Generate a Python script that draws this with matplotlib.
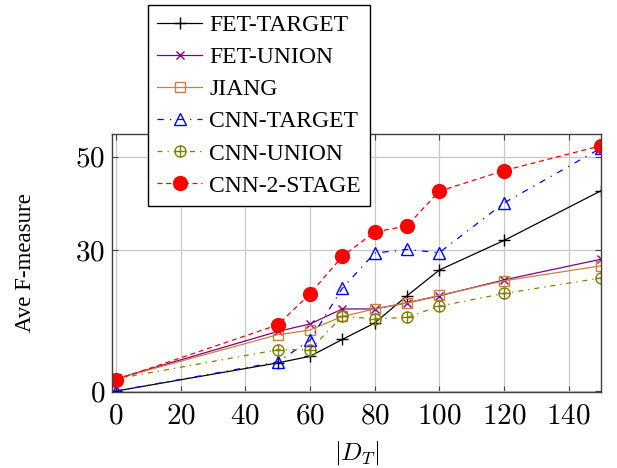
import matplotlib
matplotlib.use("Agg")
import matplotlib.pyplot as plt
from matplotlib.path import Path
import numpy as np

# ---- data ----
x = [0, 50, 60, 70, 80, 90, 100, 120, 150]
fet_target = [0.0, 6.0, 7.4, 11.0, 14.5, 20.3, 25.8, 32.1, 42.7]
fet_union = [2.6, 12.7, 14.3, 17.5, 17.5, 18.8, 20.3, 23.7, 28.1]
jiang = [2.6, 12.0, 13.0, 15.9, 17.5, 18.8, 20.4, 23.5, 26.7]
cnn_target = [0.0, 6.2, 10.8, 21.9, 29.4, 30.2, 29.5, 40.1, 51.8]
cnn_union = [2.6, 8.8, 8.8, 15.9, 15.4, 15.7, 18.1, 20.8, 24.1]
cnn_2stage = [2.4, 14.1, 20.7, 28.7, 33.9, 35.2, 42.6, 47.0, 52.3]
labels = ["FET-TARGET", "FET-UNION", "JIANG", "CNN-TARGET", "CNN-UNION", "CNN-2-STAGE"]
xticks = [0, 20, 40, 60, 80, 100, 120, 140]
yticks = [0, 30, 50]
xlabel = r"$|D_T|$"
ylabel = "Ave F-measure"

plt.rcParams["font.family"] = ["Liberation Serif", "DejaVu Serif"]
plt.rcParams["mathtext.fontset"] = "cm"

fig = plt.figure(figsize=(6.17, 4.68), dpi=100)
ax = fig.add_axes([112 / 617, 1 - 392 / 468, 489 / 617, 258 / 468])

# oplus marker
circ = Path.unit_circle()
cross = Path([[-1, 0], [1, 0], [0, -1], [0, 1]],
             [Path.MOVETO, Path.LINETO, Path.MOVETO, Path.LINETO])
oplus = Path.make_compound_path(circ, cross)

lw = 0.9
ax.plot(x, fet_target, color="black", lw=lw, marker="+", ms=8, mew=1.0, label=labels[0])
ax.plot(x, fet_union, color=(0.5, 0, 0.5), lw=lw, marker="x", ms=5.5, mew=1.0, label=labels[1])
ax.plot(x, jiang, color=(0.8, 0.5, 0.25), lw=lw, marker="s", ms=7.5, mew=1.0, mfc="none", label=labels[2])
ax.plot(x, cnn_target, color="blue", lw=lw, ls=(0, (5, 5, 1, 5)), marker="^", ms=8, mew=1.0, mfc="none", label=labels[3])
ax.plot(x, cnn_union, color=(0.5, 0.5, 0), lw=lw, ls=(0, (4, 4, 1, 4)), marker=oplus, ms=8, mew=1.0, mfc="none", label=labels[4])
ax.plot(x, cnn_2stage, color="red", lw=lw, ls=(0, (4, 3)), marker="o", ms=11, mew=0, label=labels[5])

ax.set_xlim(-1.2, 150)
ax.set_ylim(-0.2, 54.8)
ax.set_xticks(xticks, labels=[f"${t}$" for t in xticks])
ax.set_yticks(yticks, labels=[f"${t}$" for t in yticks])
ax.grid(True, color="#c8c8c8", lw=0.9)
ax.set_axisbelow(True)
for s in ax.spines.values():
    s.set_color("#404040")
    s.set_linewidth(1.0)
ax.tick_params(direction="in", length=4, width=0.8, color="#404040",
               top=True, right=True, labelsize=21, pad=5)
ax.tick_params(axis="x", pad=8)

ax.set_xlabel(xlabel, fontsize=18, labelpad=7)
ax.set_ylabel(ylabel, fontsize=16.5)
ax.yaxis.set_label_coords(-0.155, 0.5)

leg = fig.legend(loc="upper left", bbox_to_anchor=(148 / 617, 1 - 5 / 468),
                 bbox_transform=fig.transFigure, borderaxespad=0,
                 fontsize=17, frameon=True, fancybox=False, edgecolor="black",
                 framealpha=1, handlelength=1.9, handletextpad=0.3,
                 labelspacing=0.45, borderpad=0.4)
leg.get_frame().set_linewidth(1.0)

fig.savefig("out.png", dpi=100)
